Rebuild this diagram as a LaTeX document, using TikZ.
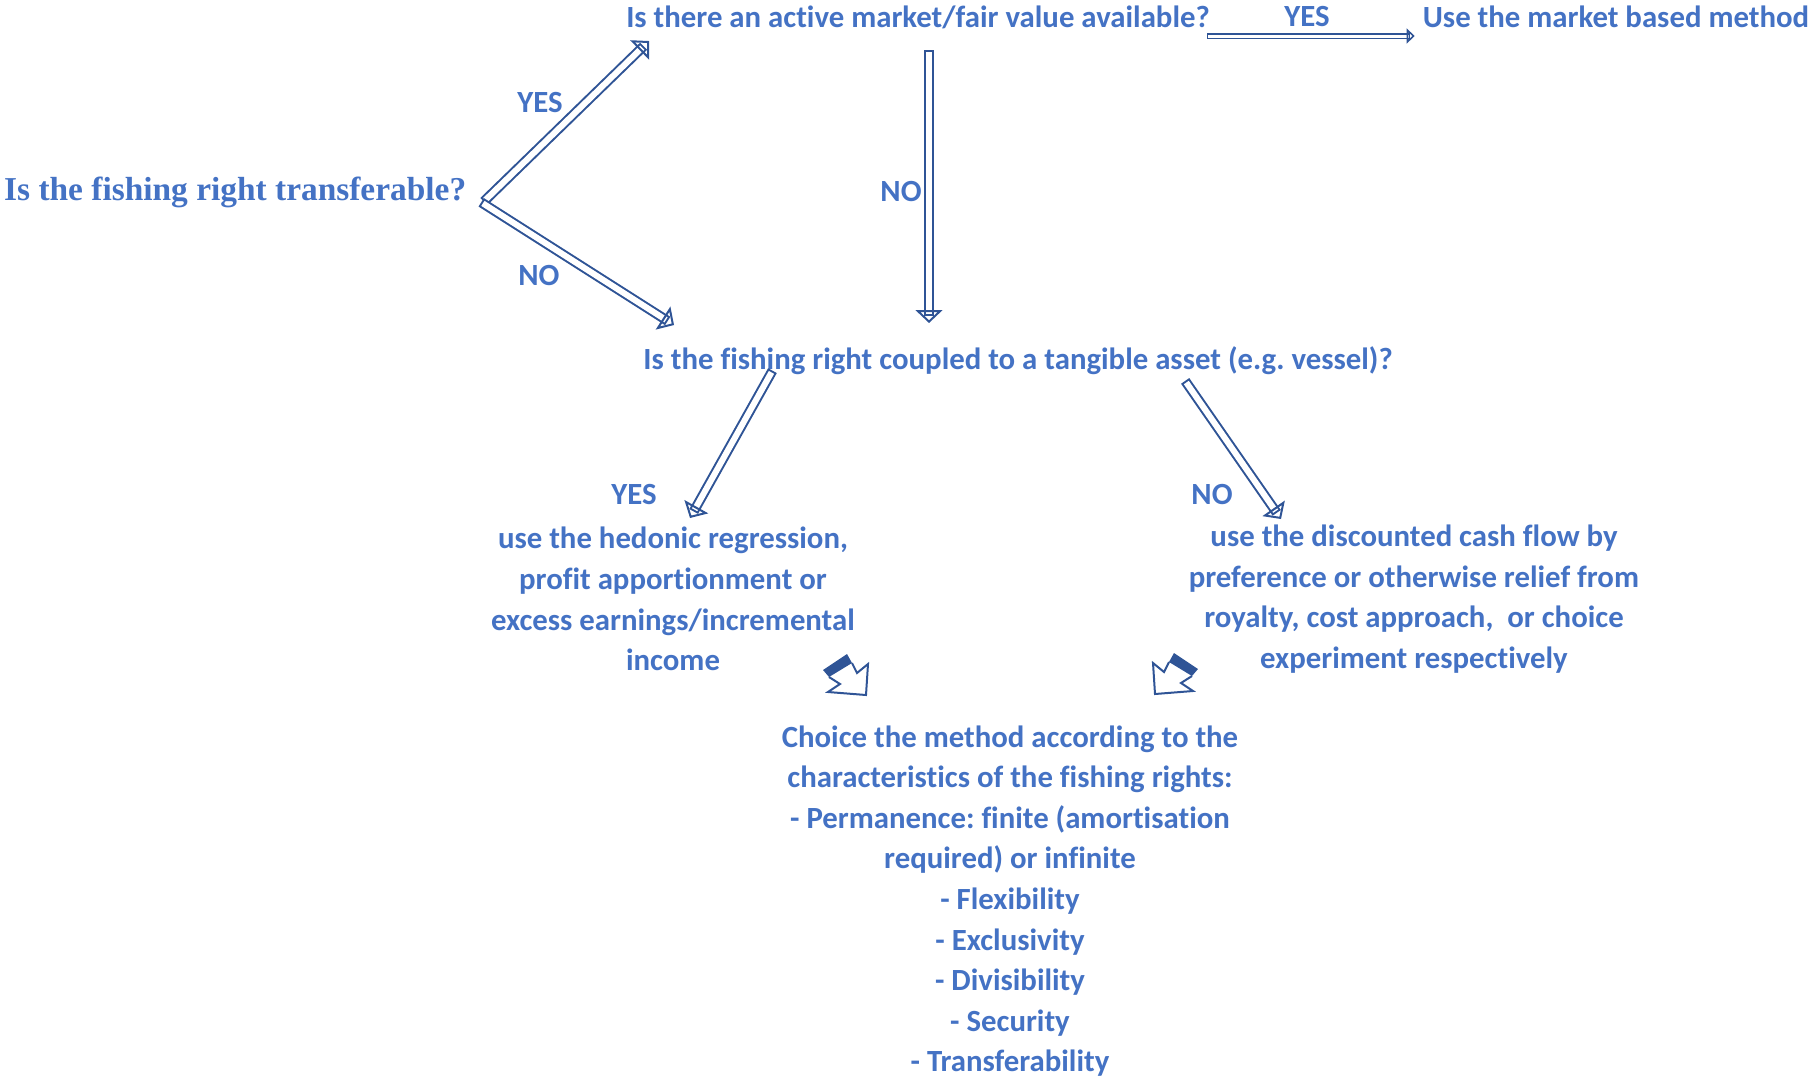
\documentclass[tikz,border=0pt]{standalone}
\usepackage{fontspec}
\setmainfont{Carlito}[Ligatures={NoCommon}]
\newfontfamily\timesfont{Liberation Serif}
\usetikzlibrary{arrows.meta,calc,positioning}
\definecolor{txtblue}{HTML}{4472C4}
\definecolor{arrblue}{HTML}{2F5496}
\frenchspacing

\tikzset{
  txt/.style={text=txtblue, font=\fontsize{30.8}{40.6}\selectfont\bfseries, inner sep=0pt, align=center},
  hollow/.style={draw=arrblue, double=white, line width=2pt, double distance=6pt, line cap=rect,
    -{Triangle[open, line width=2pt, length=13pt, width=27pt]}},
  thinhollow/.style={hollow, line width=1.6pt, double distance=3pt,
    -{Triangle[open, line width=1.6pt, length=8pt, width=15pt]}},
}

% small block arrow, tip at #1, #2 = 1 or -1 for mirroring
\newcommand{\fatarrow}[2]{%
  \begin{scope}[shift={#1}, xscale=#2]
    \fill[arrblue] (-43,-25) -- (-19,-41) -- (-14,-32) -- (-37,-18) -- cycle;
    \draw[arrblue, line width=2pt, line join=miter]
      (-14,-32) -- (-9,-22) -- (2,-31) -- (0,0) -- (-38,-3) -- (-26,-11) -- (-37,-18);
  \end{scope}}

\begin{document}
\begin{tikzpicture}[x=1pt,y=-1pt]
\useasboundingbox (0,0) rectangle (1814,1077);

% questions
\node[txt, font=\timesfont\fontsize{33.4}{40}\selectfont\bfseries, anchor=west] (q1) at (4,192) {Is the fishing right transferable?};
\node[txt] (q2) at (918,17) {Is there an active market/fair value available?};
\node[txt] (mkt) at (1616,17) {Use the market based method};
\node[txt] (q3) at (1018,361) {Is the fishing right coupled to a tangible asset (e.g. vessel)?};

% methods
\node[txt] (hed) at (673,599) {use the hedonic regression,\\profit apportionment or\\excess earnings/incremental\\income};
\node[txt] (dcf) at (1414,599) {use the discounted cash flow by\\preference or otherwise relief from\\royalty, cost approach,\ \ or choice\\experiment respectively};
\node[txt] (chc) at (1010,901) {Choice the method according to the\\characteristics of the fishing rights:\\- Permanence: finite (amortisation\\required) or infinite\\- Flexibility\\- Exclusivity\\- Divisibility\\- Security\\- Transferability};

% answers
\node[txt] (yes1) at (540,103) {YES};
\node[txt] (no1) at (539,275) {NO};
\node[txt] (no2) at (901,191) {NO};
\node[txt] (yes2) at (1307,17) {YES};
\node[txt] (yes3) at (634,494) {YES};
\node[txt] (no3) at (1212,494) {NO};

% connectors
\draw[hollow] ($(q1.east)+(21,6)$) -- ($(q2.center)+(-269,24)$);
\draw[hollow] ($(q1.east)+(19,13)$) -- ($(q3.center)+(-344,-36)$);
\draw[thinhollow] ($(q2.east)+(0,19)$) -- ($(mkt.west)+(-8,19)$);
\draw[hollow] ($(q2.center)+(11,38)$) -- ($(q3.center)+(-89,-38)$);
\draw[hollow] ($(q3.center)+(-248,14)$) -- ($(hed.center)+(17,-81)$);
\draw[hollow] ($(q3.center)+(170,24)$) -- ($(dcf.center)+(-133,-80)$);

\fatarrow{(866,695)}{1}
\fatarrow{(1155,694)}{-1}
\end{tikzpicture}
\end{document}
